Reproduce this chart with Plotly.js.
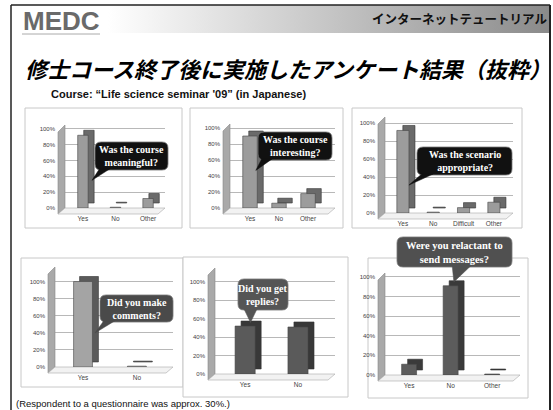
<!DOCTYPE html>
<html><head><meta charset="utf-8">
<script src="https://cdn.plot.ly/plotly-3.0.1.min.js"></script>
<style>
html,body{margin:0;padding:0;background:#fff;}
#wrap{position:relative;width:553px;height:410px;}
#band{position:absolute;left:11px;top:5px;width:539px;height:28px;background:linear-gradient(to right,#ffffff 0%,#ffffff 18%,#c4c4c4 60%,#8a8a8a 100%);}
#chart{position:absolute;left:0;top:0;width:553px;height:410px;}
</style></head>
<body><div id="wrap"><div id="band"></div><div id="chart"></div></div>
<script>
// ---- data ----
const cats1 = ['Yes','No','Other'];           const vals1 = [92,1,12];
const cats2 = ['Yes','No','Other'];           const vals2 = [90,6,18];
const cats3 = ['Yes','No','Difficult','Other']; const vals3 = [92,1,6,12];
const cats4 = ['Yes','No'];                   const vals4 = [100,1];
const cats5 = ['Yes','No'];                   const vals5 = [52,51];
const cats6 = ['Yes','No','Other'];           const vals6 = [11,91,1];
const questions = [
  'Was the course<br>meaningful?',
  'Was the course<br>interesting?',
  'Was the scenario<br>appropriate?',
  'Did you make<br>comments?',
  'Did you get<br>replies?',
  'Were you relactant to<br>send messages?'
];
const yTicks = [0,20,40,60,80,100];
const headerRight = 'インターネットテュートリアル';
const mainTitle = '修士コース終了後に実施したアンケート結果（抜粋）';
const courseText = 'Course: “Life science seminar \'09” (in Japanese)';
const footText = '(Respondent to a questionnaire was approx. 30%.)';

// ---- layout helpers ----
const W = 553, H = 410;
const px = x => x / W, py = y => 1 - y / H;

const charts = [
  {cats:cats1, vals:vals1, xd:[65,165], yd:[125,208], xr:[-0.55,2.52], ymax:105, ppu:32.5, ppp:0.79, bw:0.32,
   front:'#9c9c9c', side:'#6a6a6a', panel:[25,108,182,228], cb:'#111', box:[95,142,168,170], tail:[0.06,0.2], tip:[0.28,35], fs:10},
  {cats:cats2, vals:vals2, xd:[230,335], yd:[124,208], xr:[-0.69,2.93], ymax:105, ppu:29, ppp:0.8, bw:0.5,
   front:'#9c9c9c', side:'#6a6a6a', panel:[190,108,343,228], cb:'#111', box:[258,132,332,160], tail:[0.05,0.19], tip:[0.2,47], fs:10},
  {cats:cats3, vals:vals3, xd:[385,513], yd:[117,213], xr:[-0.59,3.63], ymax:107, ppu:30.3, ppp:0.9, bw:0.4,
   front:'#9c9c9c', side:'#6a6a6a', panel:[352,108,522,228], cb:'#111', box:[417,147,512,175], tail:[0.05,0.17], tip:[0.2,31], fs:10},
  {cats:cats4, vals:vals4, xd:[55,173], yd:[267,367], xr:[-0.52,1.67], ymax:117, ppu:54, ppp:0.85, bw:0.35,
   front:'#a4a4a4', side:'#5a5a5a', panel:[21,258,183,387], cb:'#4a4a4a', box:[100,295,173,322], tail:[0.05,0.2], tip:[0.22,40], fs:10},
  {cats:cats5, vals:vals5, xd:[215,335], yd:[268,374], xr:[-0.57,1.70], ymax:115, ppu:53, ppp:0.92, bw:0.38,
   front:'#5a5a5a', side:'#383838', panel:[183,257,348,397], cb:'#555', box:[238,279,288,310], tail:[0.12,0.38], tip:[0.1,56], fs:10},
  {cats:cats6, vals:vals6, xd:[385,520], yd:[273,375], xr:[-0.58,2.67], ymax:104, ppu:41.5, ppp:0.98, bw:0.36,
   front:'#5c5c5c', side:'#3a3a3a', panel:[368,258,528,398], cb:'#505050', box:[397,237,512,267], tail:[0.48,0.64], tip:[1.08,95], fs:10.5}
];

const data = [];
const layout = {
  width: W, height: H,
  margin: {l:0, r:0, t:0, b:0},
  paper_bgcolor: 'rgba(0,0,0,0)',
  plot_bgcolor: '#d4d4d4',
  showlegend: false,
  barmode: 'overlay',
  shapes: [], annotations: []
};

// frame
layout.shapes.push({type:'line', xref:'paper', yref:'paper', x0:px(11), x1:px(11), y0:py(5), y1:0, line:{color:'#222', width:1.5}});
layout.shapes.push({type:'line', xref:'paper', yref:'paper', x0:px(550), x1:px(550), y0:py(5), y1:0, line:{color:'#222', width:2}});
layout.shapes.push({type:'line', xref:'paper', yref:'paper', x0:px(11), x1:px(550), y0:py(5), y1:py(5), line:{color:'#222', width:1.5}});
layout.shapes.push({type:'line', xref:'paper', yref:'paper', x0:px(22), x1:px(100), y0:py(34), y1:py(34), line:{color:'#aaa', width:1}});

const P = (x, y) => px(x) + ',' + py(y);

charts.forEach((c, i) => {
  const n = i + 1;
  const xa = 'x' + (n === 1 ? '' : n), ya = 'y' + (n === 1 ? '' : n);
  const dx = 6 / c.ppu, dy = 5 / c.ppp;
  // depth face (shifted copy) then front face
  data.push({type:'bar', x:c.cats, y:c.vals, base:c.vals.map(() => dy), width:c.bw, offset:-c.bw/2 + dx,
    marker:{color:c.side, line:{color:'#333', width:0.6}}, xaxis:xa, yaxis:ya, hoverinfo:'skip'});
  data.push({type:'bar', x:c.cats, y:c.vals, width:c.bw, offset:-c.bw/2,
    marker:{color:c.front, line:{color:'#444', width:0.6}}, xaxis:xa, yaxis:ya});

  const xk = 'xaxis' + (n === 1 ? '' : n), yk = 'yaxis' + (n === 1 ? '' : n);
  layout[xk] = {domain:[px(c.xd[0]), px(c.xd[1])], anchor:ya, range:c.xr, type:'category',
    showgrid:false, zeroline:false, showline:false, ticks:'', ticklabelstandoff:5, fixedrange:true,
    tickfont:{family:'Liberation Sans', size:6.5, color:'#444'}};
  layout[yk] = {domain:[py(c.yd[1]), py(c.yd[0])], anchor:xa, range:[0, c.ymax],
    tickvals:yTicks, ticktext:yTicks.map(v => v + '%'), showgrid:true, gridcolor:'#9a9a9a', gridwidth:0.7,
    zeroline:false, showline:false, ticks:'', ticklabelstandoff:9, fixedrange:true,
    tickfont:{family:'Liberation Sans', size:6, color:'#444'}};

  // panel
  const p = c.panel;
  layout.shapes.push({type:'rect', xref:'paper', yref:'paper', layer:'below', x0:px(p[0]), x1:px(p[2]), y0:py(p[3]), y1:py(p[1]),
    fillcolor:'#fff', line:{color:'#c8c8c8', width:1}});
  // left wall and floor
  const xl = c.xd[0], xr = c.xd[1], yt = c.yd[0], yb = c.yd[1];
  layout.shapes.push({type:'path', xref:'paper', yref:'paper', layer:'below',
    path:'M' + P(xl-7, yb+6) + ' L' + P(xl-7, yt+7) + ' L' + P(xl, yt) + ' L' + P(xl, yb) + ' Z',
    fillcolor:'#a9a9a9', line:{color:'#888', width:0.6}});
  layout.shapes.push({type:'path', xref:'paper', yref:'paper', layer:'below',
    path:'M' + P(xl-7, yb+6) + ' L' + P(xr-7, yb+6) + ' L' + P(xr, yb) + ' L' + P(xl, yb) + ' Z',
    fillcolor:'#f2f2f2', line:{color:'#aaa', width:0.6}});

  // callout: rounded box + tail pointing to the bar
  const b = c.box, r = 6;
  const [x0, y0, x1, y1] = b;
  layout.shapes.push({type:'path', xref:'paper', yref:'paper',
    path:'M' + P(x0+r, y0) + ' L' + P(x1-r, y0) + ' Q' + P(x1, y0) + ' ' + P(x1, y0+r) +
         ' L' + P(x1, y1-r) + ' Q' + P(x1, y1) + ' ' + P(x1-r, y1) +
         ' L' + P(x0+r, y1) + ' Q' + P(x0, y1) + ' ' + P(x0, y1-r) +
         ' L' + P(x0, y0+r) + ' Q' + P(x0, y0) + ' ' + P(x0+r, y0) + ' Z',
    fillcolor:c.cb, line:{color:'#777', width:0.8}});
  const tipX = c.xd[0] + (c.tip[0] - c.xr[0]) * c.ppu;
  const tipY = c.yd[1] - c.tip[1] * c.ppp;
  const bw = x1 - x0;
  layout.shapes.push({type:'path', xref:'paper', yref:'paper',
    path:'M' + P(x0 + bw*c.tail[0], y1-1) + ' L' + P(tipX, tipY) + ' L' + P(x0 + bw*c.tail[1], y1-1) + ' Z',
    fillcolor:c.cb, line:{color:c.cb, width:0.5}});
  layout.annotations.push({xref:'paper', yref:'paper', x:px((x0+x1)/2), y:py((y0+y1)/2), showarrow:false,
    xanchor:'center', yanchor:'middle',
    text:'<b>' + questions[i] + '</b>', font:{family:'Liberation Serif', size:c.fs, color:'#fff'}, align:'center'});
});

// texts
layout.annotations.push({xref:'paper', yref:'paper', x:px(21), y:py(21), xanchor:'left', yanchor:'middle', showarrow:false,
  text:'<b>MEDC</b>', font:{family:'Liberation Sans', size:26, color:'#6a6a6a'}});
layout.annotations.push({xref:'paper', yref:'paper', x:px(549), y:py(18), xanchor:'right', yanchor:'middle', showarrow:false,
  text:'<b>' + headerRight + '</b>', font:{family:'Noto Sans CJK JP', size:12.5, color:'#111'}});
layout.annotations.push({xref:'paper', yref:'paper', x:px(23), y:py(68), xanchor:'left', yanchor:'middle', showarrow:false,
  text:'<b><i>' + mainTitle + '</i></b>', font:{family:'Noto Sans CJK JP', size:22, color:'#000'}});
layout.annotations.push({xref:'paper', yref:'paper', x:px(49), y:py(94), xanchor:'left', yanchor:'middle', showarrow:false,
  text:'<b>' + courseText + '</b>', font:{family:'Liberation Sans', size:11, color:'#111'}});
layout.annotations.push({xref:'paper', yref:'paper', x:px(14), y:py(403), xanchor:'left', yanchor:'middle', showarrow:false,
  text:footText, font:{family:'Liberation Sans', size:9.5, color:'#111'}});

Plotly.newPlot('chart', data, layout, {displayModeBar:false, staticPlot:true});
</script></body></html>
